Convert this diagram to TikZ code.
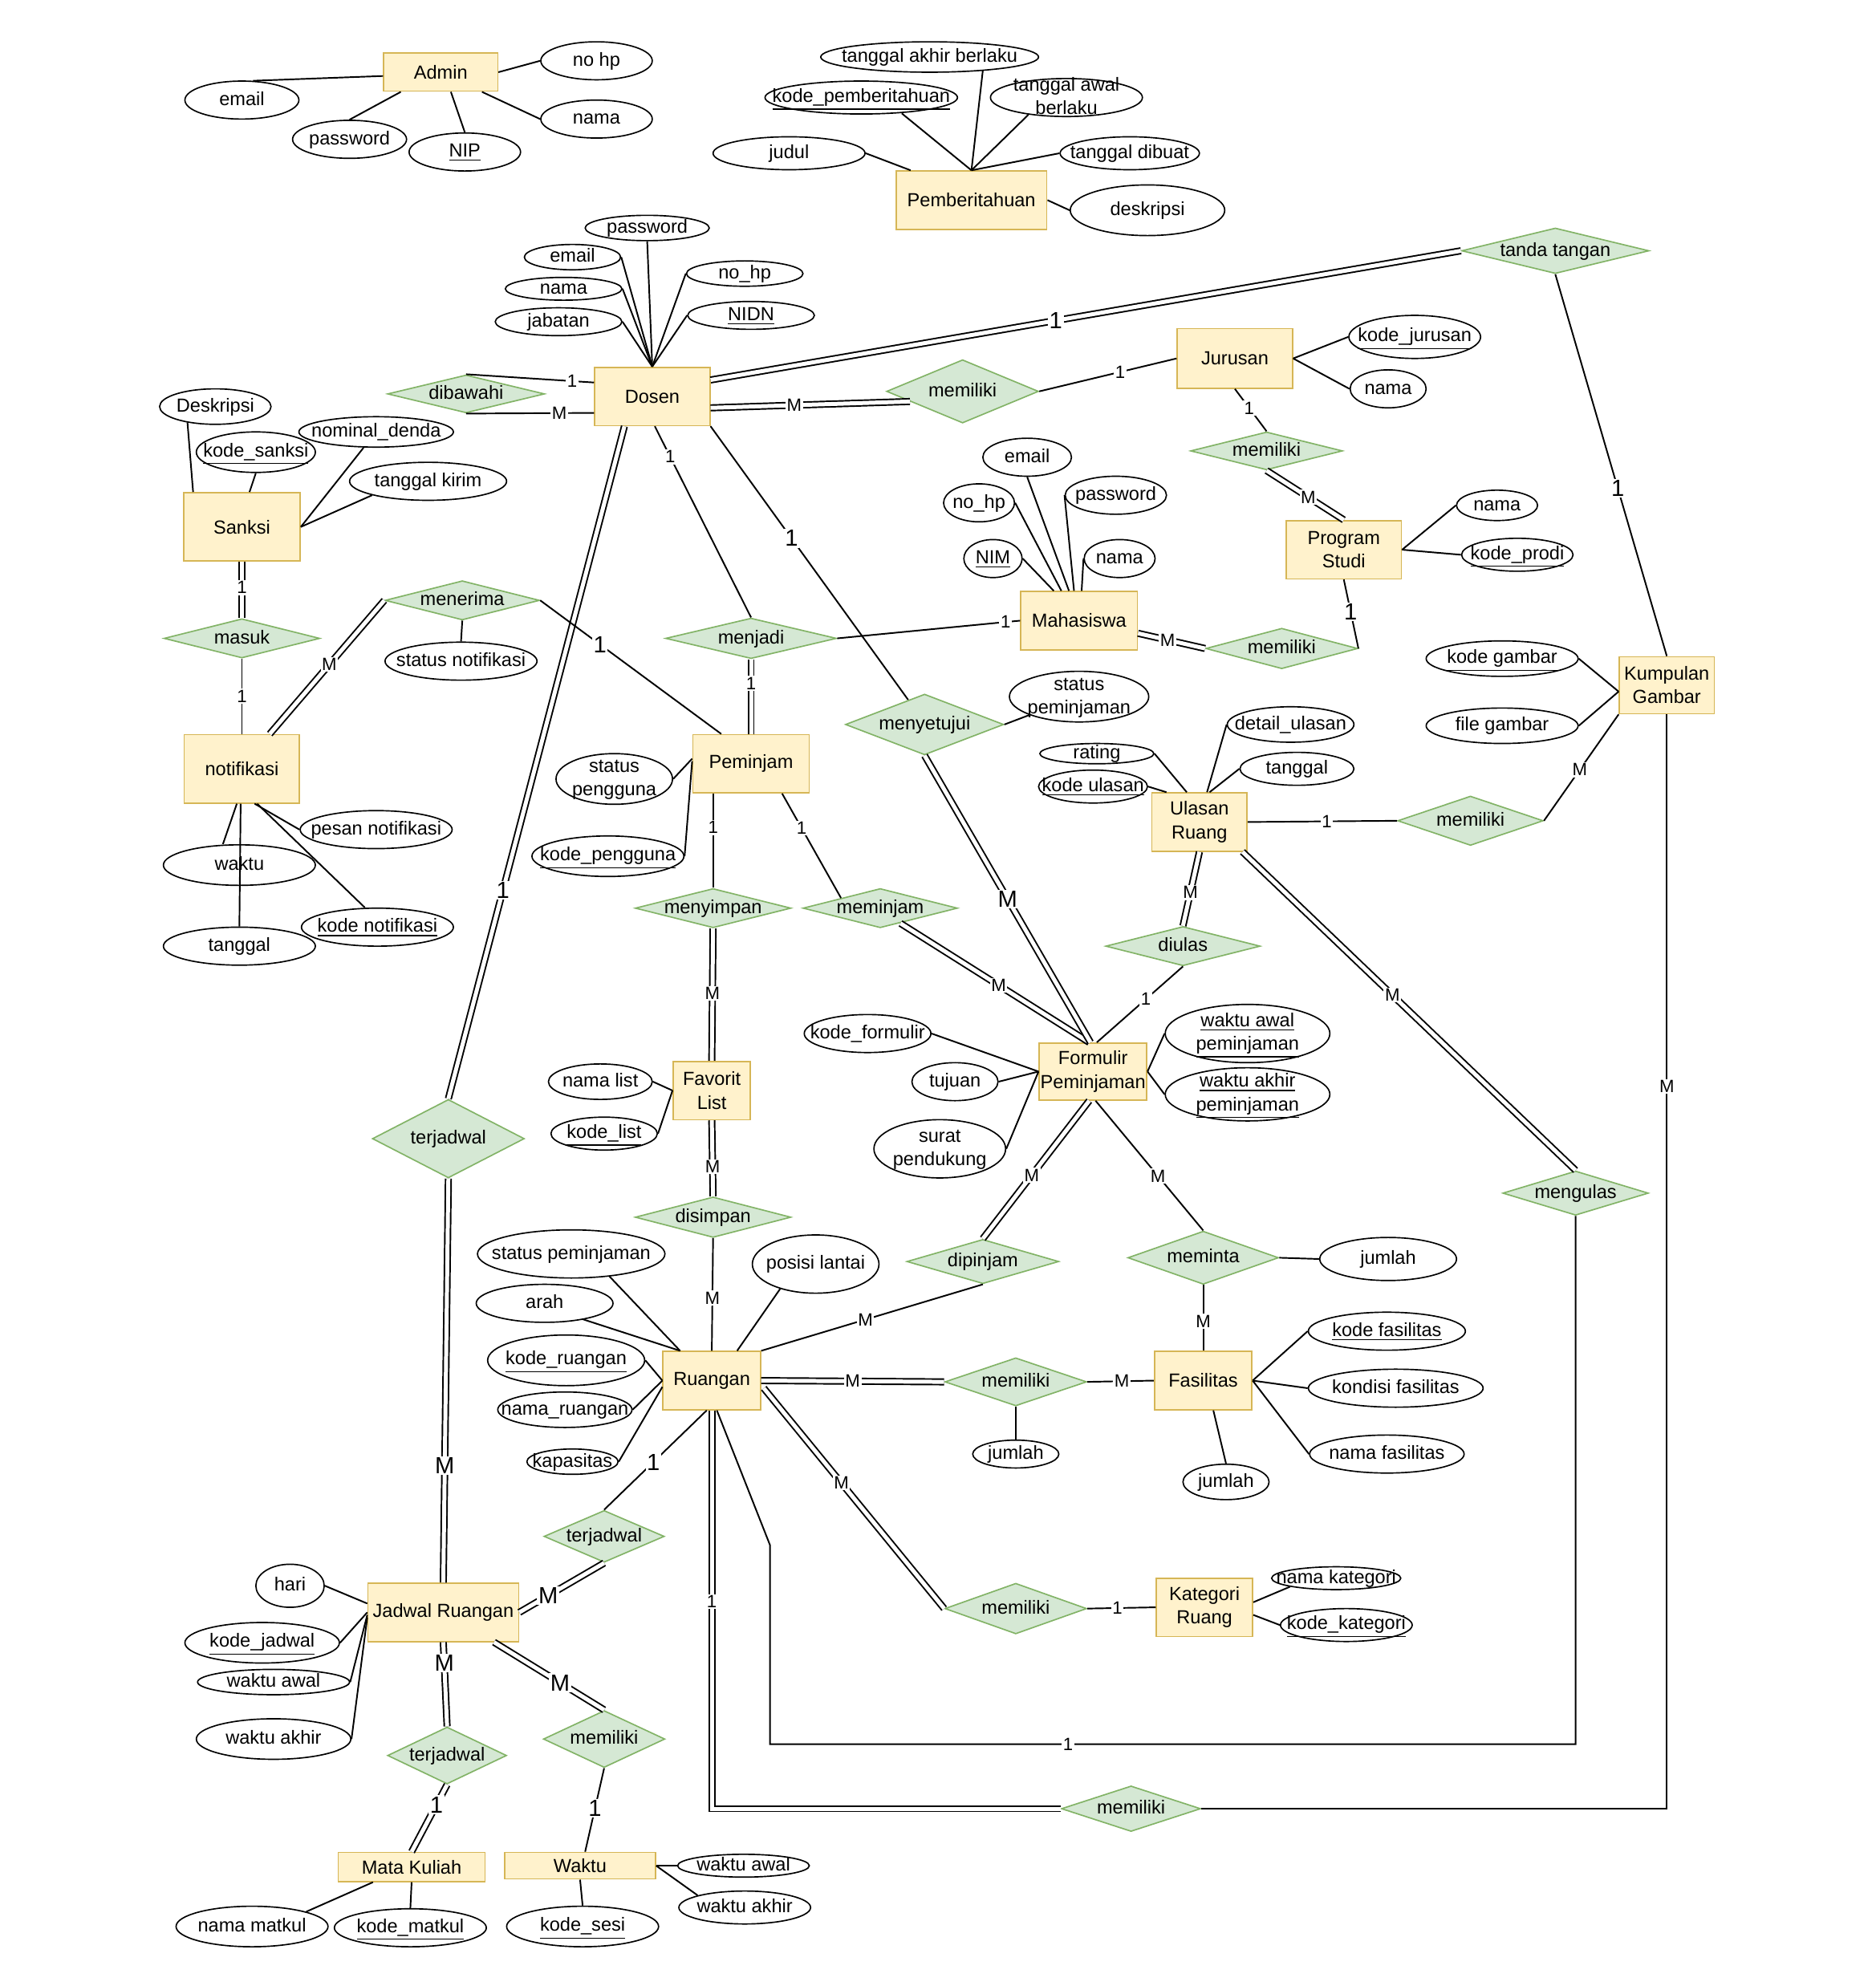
\documentclass[tikz,border=0pt]{standalone}
\usepackage{fontspec}
\setmainfont{Liberation Sans}
\usetikzlibrary{shapes.geometric,calc}

\definecolor{entfill}{HTML}{FFF2CC}
\definecolor{entline}{HTML}{D6B656}
\definecolor{relfill}{HTML}{D5E8D4}
\definecolor{relline}{HTML}{82B366}

\newcommand{\ertext}[1]{\smash{\makebox[0pt]{\raisebox{-0.5ex}{\begin{tabular}{@{}c@{}}#1\end{tabular}}}}}

\tikzset{
  entity/.style={draw=entline, fill=entfill, line width=0.6pt, align=center, inner sep=0.5pt},
  rel/.style={diamond, draw=relline, fill=relfill, line width=0.6pt, inner sep=0pt},
  attr/.style={ellipse, draw, fill=white, line width=0.6pt, inner sep=0pt},
  wh/.style 2 args={minimum width=#1*0.02cm, minimum height=#2*0.02cm},
  dbl/.style={double, double distance=1.8pt},
  cardlbl/.style={fill=white, inner sep=0.6pt, font=\fontsize{8}{9}\selectfont},
  bigcard/.style={cardlbl, font=\fontsize{10.5}{12}\selectfont}
}

\begin{document}
\begin{tikzpicture}[x=0.02cm, y=-0.02cm, line width=0.7pt, font=\fontsize{8.5}{10.5}\selectfont]
\useasboundingbox (0,0) rectangle (1481,1568);

% entities
\node[entity, wh={90}{30}] (admin) at (348,57) {Admin};
\node[entity, wh={119}{46}] (pemberitahuan) at (767,158) {Pemberitahuan};
\node[entity, wh={91}{46}] (dosen) at (515,313) {Dosen};
\node[entity, wh={91}{47}] (jurusan) at (975,283) {Jurusan};
\node[entity, wh={91}{46}] (prodi) at (1061,434) {Program\\Studi};
\node[entity, wh={92}{54}] (sanksi) at (191,416) {Sanksi};
\node[entity, wh={91}{54}] (notifikasi) at (191,607) {notifikasi};
\node[entity, wh={92}{46}] (mahasiswa) at (852,490) {Mahasiswa};
\node[entity, wh={75}{45}] (gambar) at (1316,541) {Kumpulan\\Gambar};
\node[entity, wh={92}{46}] (peminjam) at (593,603) {Peminjam};
\node[entity, wh={75}{46}] (ulasan) at (947,649) {Ulasan\\Ruang};
\node[entity, wh={85}{45}] (formulir) at (863,846) {Formulir\\Peminjaman};
\node[entity, wh={61}{46}] (favorit) at (562,861) {Favorit\\List};
\node[entity, wh={77}{46}] (ruangan) at (562,1090) {Ruangan};
\node[entity, wh={77}{46}] (fasilitas) at (950,1090) {Fasilitas};
\node[entity, wh={76}{46}] (kategori) at (951,1269) {Kategori\\Ruang};
\node[entity, wh={119}{46}] (jadwal) at (350,1273) {Jadwal Ruangan};
\node[entity, wh={116}{23}] (matkul) at (325,1474) {Mata Kuliah};
\node[entity, wh={119}{21}] (waktu) at (458,1473) {Waktu};

% relationships
\node[rel, wh={124}{30}] (dibawahi) at (368,311) {\ertext{dibawahi}};
\node[rel, wh={120}{50}] (memDJ) at (760,309) {\ertext{memiliki}};
\node[rel, wh={148}{36}] (tandatangan) at (1228,198) {\ertext{tanda tangan}};
\node[rel, wh={120}{30}] (memJP) at (1000,356) {\ertext{memiliki}};
\node[rel, wh={120}{32}] (memMP) at (1012,512) {\ertext{memiliki}};
\node[rel, wh={123}{31}] (masuk) at (191,504) {\ertext{masuk}};
\node[rel, wh={122}{31}] (menerima) at (365,474) {\ertext{menerima}};
\node[rel, wh={135}{32}] (menjadi) at (593,504) {\ertext{menjadi}};
\node[rel, wh={125}{48}] (menyetujui) at (730,572) {\ertext{menyetujui}};
\node[rel, wh={115}{39}] (memUG) at (1161,648) {\ertext{memiliki}};
\node[rel, wh={123}{31}] (menyimpan) at (563,717) {\ertext{menyimpan}};
\node[rel, wh={122}{31}] (meminjam) at (695,717) {\ertext{meminjam}};
\node[rel, wh={122}{31}] (diulas) at (934,747) {\ertext{diulas}};
\node[rel, wh={120}{62}] (terjDJ) at (354,899) {\ertext{terjadwal}};
\node[rel, wh={115}{35}] (mengulas) at (1244,942) {\ertext{mengulas}};
\node[rel, wh={123}{32}] (disimpan) at (563,961) {\ertext{disimpan}};
\node[rel, wh={120}{35}] (dipinjam) at (776,996) {\ertext{dipinjam}};
\node[rel, wh={119}{42}] (meminta) at (950,993) {\ertext{meminta}};
\node[rel, wh={112}{38}] (memRF) at (802,1091) {\ertext{memiliki}};
\node[rel, wh={112}{40}] (memRK) at (802,1270) {\ertext{memiliki}};
\node[rel, wh={95}{41}] (terjRJ) at (477,1213) {\ertext{terjadwal}};
\node[rel, wh={94}{45}] (terjJM) at (353,1386) {\ertext{terjadwal}};
\node[rel, wh={96}{45}] (memJW) at (477,1373) {\ertext{memiliki}};
\node[rel, wh={110}{36}] (memRG) at (893,1428) {\ertext{memiliki}};

% attributes
\node[attr, wh={88}{30}] (nohpA) at (471,48) {\ertext{no hp}};
\node[attr, wh={90}{30}] (emailA) at (191,79) {\ertext{email}};
\node[attr, wh={88}{30}] (namaA) at (471,94) {\ertext{nama}};
\node[attr, wh={90}{30}] (passA) at (276,110) {\ertext{password}};
\node[attr, wh={88}{30}] (nip) at (367,120) {\ertext{\underline{NIP}}};

\node[attr, wh={172}{24}] (tglakhir) at (734,45) {\ertext{tanggal akhir berlaku}};
\node[attr, wh={152}{26}] (kodepb) at (680,77) {\ertext{\underline{kode\_pemberitahuan}}};
\node[attr, wh={120}{30}] (tglawal) at (842,77) {\ertext{tanggal awal\\berlaku}};
\node[attr, wh={120}{26}] (judul) at (623,121) {\ertext{judul}};
\node[attr, wh={110}{26}] (tgldibuat) at (892,121) {\ertext{tanggal dibuat}};
\node[attr, wh={122}{40}] (deskripsi) at (906,166) {\ertext{deskripsi}};

\node[attr, wh={98}{20}] (passD) at (511,180) {\ertext{password}};
\node[attr, wh={76}{20}] (emailD) at (452,203) {\ertext{email}};
\node[attr, wh={92}{18}] (namaD) at (445,228) {\ertext{nama}};
\node[attr, wh={100}{22}] (jabatan) at (441,254) {\ertext{jabatan}};
\node[attr, wh={92}{20}] (nohpD) at (588,216) {\ertext{no\_hp}};
\node[attr, wh={100}{22}] (nidn) at (593,249) {\ertext{\underline{NIDN}}};

\node[attr, wh={104}{34}] (kodejur) at (1117,266) {\ertext{\underline{kode\_jurusan}}};
\node[attr, wh={60}{30}] (namaJ) at (1096,307) {\ertext{nama}};
\node[attr, wh={64}{24}] (namaP) at (1182,399) {\ertext{nama}};
\node[attr, wh={88}{26}] (kodeprodi) at (1198,438) {\ertext{\underline{kode\_prodi}}};

\node[attr, wh={70}{30}] (emailM) at (811,361) {\ertext{email}};
\node[attr, wh={56}{30}] (nohpM) at (773,397) {\ertext{no\_hp}};
\node[attr, wh={80}{30}] (passM) at (881,391) {\ertext{password}};
\node[attr, wh={46}{30}] (nim) at (784,441) {\ertext{\underline{NIM}}};
\node[attr, wh={56}{30}] (namaM) at (884,441) {\ertext{nama}};

\node[attr, wh={88}{28}] (deskS) at (170,321) {\ertext{Deskripsi}};
\node[attr, wh={94}{32}] (kodesanksi) at (202,357) {\ertext{\underline{kode\_sanksi}}};
\node[attr, wh={122}{24}] (nominal) at (297,341) {\ertext{nominal\_denda}};
\node[attr, wh={124}{30}] (tglkirim) at (338,380) {\ertext{tanggal kirim}};

\node[attr, wh={120}{30}] (stnotif) at (364,522) {\ertext{status notifikasi}};
\node[attr, wh={120}{30}] (pesan) at (297,655) {\ertext{pesan notifikasi}};
\node[attr, wh={120}{32}] (waktuN) at (189,683) {\ertext{waktu}};
\node[attr, wh={120}{30}] (tanggalN) at (189,747) {\ertext{tanggal}};
\node[attr, wh={120}{30}] (kodenotif) at (298,732) {\ertext{\underline{kode notifikasi}}};

\node[attr, wh={110}{40}] (stpemM) at (852,550) {\ertext{status\\peminjaman}};
\node[attr, wh={100}{28}] (detail) at (1019,572) {\ertext{detail\_ulasan}};
\node[attr, wh={90}{16}] (rating) at (866,595) {\ertext{rating}};
\node[attr, wh={90}{26}] (tglU) at (1024,607) {\ertext{tanggal}};
\node[attr, wh={86}{26}] (kodeul) at (863,621) {\ertext{\underline{kode ulasan}}};
\node[attr, wh={120}{28}] (kodegb) at (1186,520) {\ertext{\underline{kode gambar}}};
\node[attr, wh={120}{28}] (filegb) at (1186,573) {\ertext{file gambar}};

\node[attr, wh={92}{40}] (stpeng) at (485,615) {\ertext{status\\pengguna}};
\node[attr, wh={120}{32}] (kodepeng) at (480,676) {\ertext{\underline{kode\_pengguna}}};

\node[attr, wh={100}{30}] (kodeform) at (685,816) {\ertext{kode\_formulir}};
\node[attr, wh={68}{30}] (tujuan) at (754,854) {\ertext{tujuan}};
\node[attr, wh={104}{46}] (surat) at (742,907) {\ertext{surat\\pendukung}};
\node[attr, wh={130}{46}] (wawalF) at (985,816) {\ertext{\underline{waktu awal}\\\underline{peminjaman}}};
\node[attr, wh={130}{42}] (wakhirF) at (985,864) {\ertext{\underline{waktu akhir}\\\underline{peminjaman}}};

\node[attr, wh={82}{28}] (namalist) at (474,854) {\ertext{nama list}};
\node[attr, wh={84}{26}] (kodelist) at (477,895) {\ertext{\underline{kode\_list}}};

\node[attr, wh={148}{38}] (stpemR) at (451,990) {\ertext{status peminjaman}};
\node[attr, wh={100}{46}] (posisi) at (644,998) {\ertext{posisi lantai}};
\node[attr, wh={108}{30}] (arah) at (430,1029) {\ertext{arah}};
\node[attr, wh={124}{40}] (kodeR) at (447,1074) {\ertext{\underline{kode\_ruangan}}};
\node[attr, wh={106}{28}] (namaR) at (446,1113) {\ertext{nama\_ruangan}};
\node[attr, wh={72}{20}] (kapasitas) at (452,1154) {\ertext{kapasitas}};

\node[attr, wh={108}{34}] (jmlM) at (1096,994) {\ertext{jumlah}};
\node[attr, wh={124}{30}] (kodefas) at (1095,1051) {\ertext{\underline{kode fasilitas}}};
\node[attr, wh={138}{30}] (kondisi) at (1102,1096) {\ertext{kondisi fasilitas}};
\node[attr, wh={122}{30}] (namafas) at (1095,1148) {\ertext{nama fasilitas}};
\node[attr, wh={68}{22}] (jmlRF) at (802,1148) {\ertext{jumlah}};
\node[attr, wh={68}{28}] (jmlF) at (968,1170) {\ertext{jumlah}};
\node[attr, wh={102}{18}] (namakat) at (1055,1246) {\ertext{nama kategori}};
\node[attr, wh={104}{26}] (kodekat) at (1063,1283) {\ertext{\underline{kode\_kategori}}};

\node[attr, wh={54}{34}] (hari) at (229,1252) {\ertext{hari}};
\node[attr, wh={122}{32}] (kodejad) at (207,1297) {\ertext{\underline{kode\_jadwal}}};
\node[attr, wh={120}{20}] (wawalJ) at (216,1328) {\ertext{waktu awal}};
\node[attr, wh={122}{32}] (wakhirJ) at (216,1373) {\ertext{waktu akhir}};
\node[attr, wh={120}{32}] (namamk) at (199,1521) {\ertext{nama matkul}};
\node[attr, wh={120}{30}] (kodemk) at (324,1522) {\ertext{\underline{kode\_matkul}}};
\node[attr, wh={120}{32}] (kodesesi) at (460,1521) {\ertext{\underline{kode\_sesi}}};
\node[attr, wh={104}{18}] (wawalW) at (587,1473) {\ertext{waktu awal}};
\node[attr, wh={104}{26}] (wakhirW) at (588,1506) {\ertext{waktu akhir}};

% attribute lines
\draw (emailA.60) -- ($(admin.west)+(0,3)$);
\draw (passA.north) -- ($(admin.south west)+(14,0)$);
\draw (nip.north) -- ($(admin.south)+(8,0)$);
\draw (namaA.west) -- ($(admin.south east)+(-13,0)$);
\draw (nohpA.west) -- (admin.east);
\draw ($(tglakhir.south)+(42,-2)$) -- (pemberitahuan.north);
\draw ($(kodepb.south)+(32,-1)$) -- (pemberitahuan.north);
\draw ($(tglawal.south)+(-30,-2)$) -- (pemberitahuan.north);
\draw (tgldibuat.west) -- (pemberitahuan.north);
\draw (judul.east) -- ($(pemberitahuan.north west)+(12,0)$);
\draw (deskripsi.west) -- (pemberitahuan.east);
\draw (passD.south) -- (dosen.north);
\draw (emailD.east) -- (dosen.north);
\draw (namaD.east) -- (dosen.north);
\draw (jabatan.east) -- (dosen.north);
\draw (nohpD.west) -- (dosen.north);
\draw (nidn.west) -- (dosen.north);
\draw (kodejur.west) -- (jurusan.east);
\draw (namaJ.west) -- (jurusan.east);
\draw (namaP.west) -- (prodi.east);
\draw (kodeprodi.west) -- (prodi.east);
\draw (emailM.south) -- ($(mahasiswa.north)+(-8,0)$);
\draw (nohpM.east) -- ($(mahasiswa.north)+(-14,0)$);
\draw (passM.west) -- ($(mahasiswa.north)+(-4,0)$);
\draw (nim.east) -- ($(mahasiswa.north)+(-20,0)$);
\draw (namaM.west) -- ($(mahasiswa.north)+(2,0)$);
\draw ($(deskS.south)+(-22,-2)$) -- ($(sanksi.north west)+(8,0)$);
\draw (kodesanksi.south) -- ($(sanksi.north)+(6,0)$);
\draw ($(nominal.south)+(-10,0)$) -- (sanksi.east);
\draw (tglkirim.south west) -- (sanksi.east);
\draw (stnotif.north) -- (menerima.south);
\draw ($(waktuN.north)+(-13,0)$) -- ($(notifikasi.south)+(-4,0)$);
\draw (tanggalN.north) -- ($(notifikasi.south)+(-1,0)$);
\draw (pesan.west) -- ($(notifikasi.south)+(10,0)$);
\draw ($(kodenotif.north)+(-10,0)$) -- ($(notifikasi.south)+(12,0)$);
\draw (stpeng.east) -- ($(peminjam.west)+(0,-4)$);
\draw (kodepeng.east) -- ($(peminjam.west)+(0,-2)$);
\draw (menyetujui.east) -- (stpemM.south west);
\draw (rating.east) -- ($(ulasan.north)+(-10,0)$);
\draw (kodeul.east) -- ($(ulasan.north west)+(12,0)$);
\draw (detail.west) -- ($(ulasan.north)+(6,0)$);
\draw (tglU.west) -- ($(ulasan.north)+(8,0)$);
\draw (kodegb.east) -- ($(gambar.west)+(0,5)$);
\draw (filegb.east) -- ($(gambar.west)+(0,5)$);
\draw (kodeform.east) -- (formulir.west);
\draw (tujuan.east) -- (formulir.west);
\draw (surat.east) -- (formulir.west);
\draw (wawalF.west) -- (formulir.east);
\draw (wakhirF.west) -- (formulir.east);
\draw (namalist.east) -- (favorit.west);
\draw (kodelist.east) -- (favorit.west);
\draw ($(stpemR.south)+(30,-2)$) -- ($(ruangan.north west)+(14,0)$);
\draw ($(arah.south)+(30,-3)$) -- ($(ruangan.north west)+(14,0)$);
\draw (kodeR.east) -- (ruangan.west);
\draw (namaR.east) -- (ruangan.west);
\draw (kapasitas.east) -- ($(ruangan.west)+(0,5)$);
\draw ($(posisi.south)+(-28,-4)$) -- ($(ruangan.north)+(20,0)$);
\draw (meminta.east) -- (jmlM.west);
\draw (kodefas.west) -- (fasilitas.east);
\draw (kondisi.west) -- (fasilitas.east);
\draw (namafas.west) -- (fasilitas.east);
\draw (memRF.south) -- (jmlRF.north);
\draw (jmlF.north) -- ($(fasilitas.south)+(8,0)$);
\draw (namakat.south west) -- ($(kategori.east)+(0,-4)$);
\draw (kodekat.west) -- ($(kategori.east)+(0,6)$);
\draw (hari.east) -- ($(jadwal.west)+(0,-7)$);
\draw (kodejad.east) -- (jadwal.west);
\draw (wawalJ.east) -- ($(jadwal.west)+(0,2)$);
\draw (wakhirJ.east) -- ($(jadwal.west)+(0,4)$);
\draw (namamk.north east) -- ($(matkul.south west)+(28,0)$);
\draw (kodemk.north) -- (matkul.south);
\draw (kodesesi.north) -- (waktu.south);
\draw (wawalW.west) -- (waktu.east);
\draw (wakhirW.north west) -- (waktu.east);

% relationship lines
\draw (dibawahi.north) -- node[cardlbl, pos=0.83] {1} ($(dosen.west)+(0,-11)$);
\draw (dibawahi.south) -- node[cardlbl, pos=0.73] {M} ($(dosen.west)+(0,13)$);
\draw[dbl] ($(dosen.east)+(0,-13)$) -- node[bigcard, pos=0.46] {1} (tandatangan.west);
\draw[dbl] ($(dosen.east)+(0,9)$) -- node[cardlbl, pos=0.42] {M} ($(memDJ.west)+(19,8)$);
\draw (memDJ.east) -- node[cardlbl, pos=0.59] {1} (jurusan.west);
\draw (jurusan.south) -- node[cardlbl, pos=0.45] {1} (memJP.north);
\draw[dbl] (memJP.south) -- node[cardlbl, pos=0.54] {M} (prodi.north);
\draw (prodi.south) -- node[bigcard, pos=0.47] {1} (memMP.east);
\draw[dbl] ($(mahasiswa.east)+(0,10)$) -- node[cardlbl, pos=0.44] {M} (memMP.west);
\draw (tandatangan.south) -- node[bigcard, pos=0.56] {1} (gambar.north);
\draw (gambar.south west) -- node[cardlbl, pos=0.52] {M} (memUG.east);
\draw (ulasan.east) -- node[cardlbl, pos=0.53] {1} (memUG.west);
\draw (gambar.south) |- node[cardlbl, pos=0.17] {M} (memRG.east);
\draw[dbl] (ruangan.south) |- node[cardlbl, pos=0.24] {1} (memRG.west);
\coordinate (bendA) at (608,1220);
\coordinate (bendB) at (608,1377);
\coordinate (bendC) at (1244,1377);
\draw ($(ruangan.south)+(4,0)$) -- (bendA) -- (bendB) -- node[cardlbl, pos=0.37] {1} (bendC) -- (mengulas.south);
\draw[dbl] (ruangan.east) -- node[cardlbl] {M} (memRF.west);
\draw (memRF.east) -- node[cardlbl, pos=0.52] {M} (fasilitas.west);
\draw[dbl] ($(ruangan.east)+(2,6)$) -- node[cardlbl, pos=0.43] {M} (memRK.west);
\draw (memRK.east) -- node[cardlbl, pos=0.44] {1} (kategori.west);
\draw (ruangan.north east) -- node[cardlbl, pos=0.47] {M} (dipinjam.south);
\draw[dbl] (dipinjam.north) -- node[cardlbl, pos=0.46] {M} ($(formulir.south)+(-3,0)$);
\draw ($(formulir.south)+(2,0)$) -- node[cardlbl, pos=0.58] {M} (meminta.north);
\draw (meminta.south) -- node[cardlbl, pos=0.55] {M} (fasilitas.north);
\draw (ruangan.north) -- node[cardlbl, pos=0.47] {M} (disimpan.south);
\draw[dbl] (disimpan.north) -- node[cardlbl, pos=0.39] {M} (favorit.south);
\draw[dbl] (favorit.north) -- node[cardlbl, pos=0.51] {M} (menyimpan.south);
\draw (menyimpan.north) -- node[cardlbl, pos=0.64] {1} ($(peminjam.south)+(-30,0)$);
\draw ($(peminjam.south east)+(-22,0)$) -- node[cardlbl, pos=0.33] {1} ($(meminjam.north)+(-31,8)$);
\draw[dbl] ($(meminjam.south)+(16,-4)$) -- node[cardlbl, pos=0.52] {M} ($(formulir.north)+(-3,0)$);
\draw[dbl] (menjadi.south) -- node[cardlbl, pos=0.32] {1} (peminjam.north);
\draw (menjadi.east) -- node[cardlbl, pos=0.92] {1} (mahasiswa.west);
\draw ($(dosen.south)+(2,0)$) -- node[cardlbl, pos=0.16] {1} (menjadi.north);
\draw (dosen.south east) -- node[bigcard, pos=0.41] {1} ($(menyetujui.north)+(-13,5)$);
\draw[dbl] (menyetujui.south) -- node[bigcard, pos=0.5] {M} ($(formulir.north)+(-2,0)$);
\draw[dbl] (ulasan.south) -- node[cardlbl, pos=0.55] {M} (diulas.north);
\draw (diulas.south) -- node[cardlbl, pos=0.43] {1} ($(formulir.north)+(3,0)$);
\draw[dbl] ($(ulasan.south east)+(-4,0)$) -- node[cardlbl, pos=0.45] {M} (mengulas.north);
\draw[dbl] ($(dosen.south)+(-22,0)$) -- node[bigcard, pos=0.69] {1} (terjDJ.north);
\draw[dbl] (terjDJ.south) -- node[bigcard, pos=0.71] {M} (jadwal.north);
\draw ($(ruangan.south)+(-4,0)$) -- node[bigcard, pos=0.52] {1} (terjRJ.north);
\draw[dbl] (terjRJ.south) -- node[bigcard, pos=0.66] {M} (jadwal.east);
\draw[dbl] (jadwal.south) -- node[bigcard, pos=0.25] {M} (terjJM.north);
\draw[dbl] (terjJM.south) -- node[bigcard, pos=0.3] {1} (matkul.north);
\draw[dbl] ($(jadwal.south east)+(-20,0)$) -- node[bigcard, pos=0.6] {M} (memJW.north);
\draw (memJW.south) -- node[bigcard, pos=0.48] {1} ($(waktu.north)+(4,0)$);
\draw[dbl] (sanksi.south) -- node[cardlbl, pos=0.46] {1} (masuk.north);
\draw (masuk.south) -- node[cardlbl] {1} (notifikasi.north);
\draw[dbl] ($(notifikasi.north)+(22,0)$) -- node[cardlbl, pos=0.52] {M} (menerima.west);
\draw (menerima.east) -- node[bigcard, pos=0.33] {1} ($(peminjam.north west)+(23,0)$);
\end{tikzpicture}
\end{document}
